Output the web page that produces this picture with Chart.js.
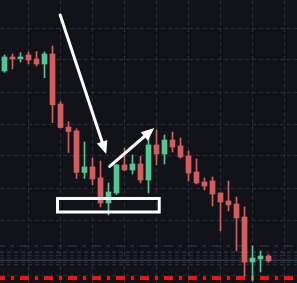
<!DOCTYPE html>
<html><head><meta charset="utf-8">
<script src="https://cdn.jsdelivr.net/npm/chart.js@4/dist/chart.umd.min.js"></script>
<style>html,body{margin:0;padding:0;background:#121318;overflow:hidden}</style>
</head><body>
<canvas id="c" width="297" height="283" style="display:block;width:297px;height:283px"></canvas>
<script>
// ---- data (price units) ----
const candleIdx = [0,1,2,3,4,5,6,7,8,9,10,11,12,13,14,15,16,17,18,19,20,21,22,23,24,25,26,27,28,29,30,31,32,33];
const opens  = [26.63,28.38,28.16,28.63,28.13,27.5,28.75,22.5,19.63,19.13,13.94,14.63,13.25,10.13,11.38,14.88,14.25,15.0,13.0,17.38,16.25,18.0,17.25,16.0,14.0,12.75,12.88,11.38,10.38,10.0,8.38,2.75,3.13,3.5];
const highs  = [28.63,28.75,28.91,29.0,29.06,29.0,29.75,22.81,20.29,19.38,17.75,15.75,15.38,12.63,14.94,17.0,16.13,15.94,18.25,19.25,18.63,19.0,18.25,16.63,15.63,13.25,13.38,11.38,12.88,10.88,9.63,4.75,4.13,3.69];
const lows   = [26.46,26.88,27.75,27.5,27.25,25.79,20.16,19.5,16.44,13.19,13.19,12.41,9.63,8.63,11.19,14.19,13.75,12.63,11.38,14.88,15.0,16.5,15.75,12.88,12.5,11.75,9.75,6.63,9.13,4.13,1.0,0.38,1.5,2.75];
const closes = [28.38,28.13,28.38,28.0,27.5,28.75,22.41,19.56,19.06,13.94,14.63,13.13,10.13,11.5,14.88,14.25,15.0,13.0,17.38,16.25,18.0,17.13,15.88,13.88,12.63,12.25,11.25,10.25,9.88,8.25,2.75,3.25,3.5,2.88];

const priceGrid = [4,8,12,16,20,24,28,32];
const timeGrid = [3,7,11,15,19,23,27,31,35];
const levelPrices = [4.75,3.54,3.21,2.71,2.41,1.04];
const solidLevel = 2.96;
const redLevel = 0.75;

// annotations (data coordinates: candle index, price)
const arrowFromX = [6.96, 13.15], arrowFromY = [33.63, 14.69];
const arrowToX   = [12.71, 18.71], arrowToY   = [16.25, 19.5];
const boxX = [6.63, 19.34], boxY = [9.0, 10.69];

const X_MIN = -0.5625, X_MAX = 36.5625, Y_MIN = 0.125, Y_MAX = 35.5;
const UP = '#50c896', DOWN = '#d85c5c';

const colors = candleIdx.map((_, i) => closes[i] >= opens[i] ? UP : DOWN);
const bodies = candleIdx.map((x, i) => ({x, y: [Math.min(opens[i], closes[i]), Math.max(opens[i], closes[i])]}));
const wicks = candleIdx.map((x, i) => ({x, y: [lows[i], highs[i]]}));

function levelLine(p, color, width, dash, dashOffset) {
  return {type: 'line', data: [{x: X_MIN, y: p}, {x: X_MAX, y: p}], borderColor: color, borderWidth: width,
    borderDash: dash, borderDashOffset: dashOffset || 0, pointRadius: 0, order: 10, tension: 0};
}

const datasets = [
  {type: 'bar', data: bodies, backgroundColor: colors, barThickness: 5, minBarLength: 1, grouped: false, order: 1, borderWidth: 0},
  {type: 'bar', data: wicks, backgroundColor: colors, barThickness: 1, grouped: false, order: 2, borderWidth: 0},
  levelLine(levelPrices[0], '#363c4a', 1, [9,6,3,6], 4),
  levelLine(levelPrices[1], '#2a303b', 1, [4,3]),
  levelLine(levelPrices[2], '#2a303b', 1, [4,3]),
  levelLine(levelPrices[3], '#2a303b', 1, [4,3]),
  levelLine(levelPrices[4], '#2a303b', 1, [4,3]),
  levelLine(levelPrices[5], '#262b35', 1, [4,3]),
  levelLine(4.0, '#2a303b', 1, [4,3]),
  levelLine(solidLevel, '#2e4862', 1, []),
  levelLine(redLevel, '#ff1010', 4, [9,6,3,6], 4),
];

const bgPlugin = {id: 'bg', beforeDraw(chart) {
  const c = chart.ctx; c.save(); c.fillStyle = '#121318'; c.fillRect(0, 0, chart.width, chart.height); c.restore();
}};

const annotPlugin = {id: 'annot', afterDatasetsDraw(chart) {
  const xs = chart.scales.x, ys = chart.scales.y, c = chart.ctx;
  c.save();
  c.strokeStyle = '#ffffff'; c.fillStyle = '#ffffff'; c.lineWidth = 3; c.lineCap = 'round';
  for (let k = 0; k < arrowFromX.length; k++) {
    const x1 = xs.getPixelForValue(arrowFromX[k]), y1 = ys.getPixelForValue(arrowFromY[k]);
    const x2 = xs.getPixelForValue(arrowToX[k]), y2 = ys.getPixelForValue(arrowToY[k]);
    const a = Math.atan2(y2 - y1, x2 - x1), hl = 13, hw = 5.5;
    const bx = x2 - hl * Math.cos(a), by = y2 - hl * Math.sin(a);
    c.beginPath(); c.moveTo(x1, y1); c.lineTo(bx, by); c.stroke();
    c.beginPath(); c.moveTo(x2, y2);
    c.lineTo(bx + hw * Math.sin(a), by - hw * Math.cos(a));
    c.lineTo(bx - hw * Math.sin(a), by + hw * Math.cos(a));
    c.closePath(); c.fill();
  }
  const rx1 = xs.getPixelForValue(boxX[0]), rx2 = xs.getPixelForValue(boxX[1]);
  const ry1 = ys.getPixelForValue(boxY[1]), ry2 = ys.getPixelForValue(boxY[0]);
  c.lineCap = 'butt'; c.lineJoin = 'miter';
  c.strokeRect(rx1, ry1, rx2 - rx1, ry2 - ry1);
  c.restore();
}};

const gridColor = '#2a2d35';
new Chart(document.getElementById('c'), {
  type: 'bar',
  data: {datasets},
  options: {
    responsive: false, animation: false, events: [],
    layout: {padding: 0},
    plugins: {legend: {display: false}, tooltip: {enabled: false}},
    scales: {
      x: {type: 'linear', min: X_MIN, max: X_MAX, offset: false,
        grid: {color: gridColor, offset: false, drawTicks: false, tickLength: 0},
        border: {display: false, dash: [4,3]},
        ticks: {display: false},
        afterBuildTicks(s) { s.ticks = timeGrid.map(v => ({value: v})); },
        afterFit(s) { s.height = 0; }},
      y: {type: 'linear', min: Y_MIN, max: Y_MAX, beginAtZero: false,
        grid: {color: gridColor, drawTicks: false, tickLength: 0},
        border: {display: false, dash: [4,3]},
        ticks: {display: false},
        afterBuildTicks(s) { s.ticks = priceGrid.map(v => ({value: v})); },
        afterFit(s) { s.width = 0; }}
    }
  },
  plugins: [bgPlugin, annotPlugin]
});
</script>
</body></html>
